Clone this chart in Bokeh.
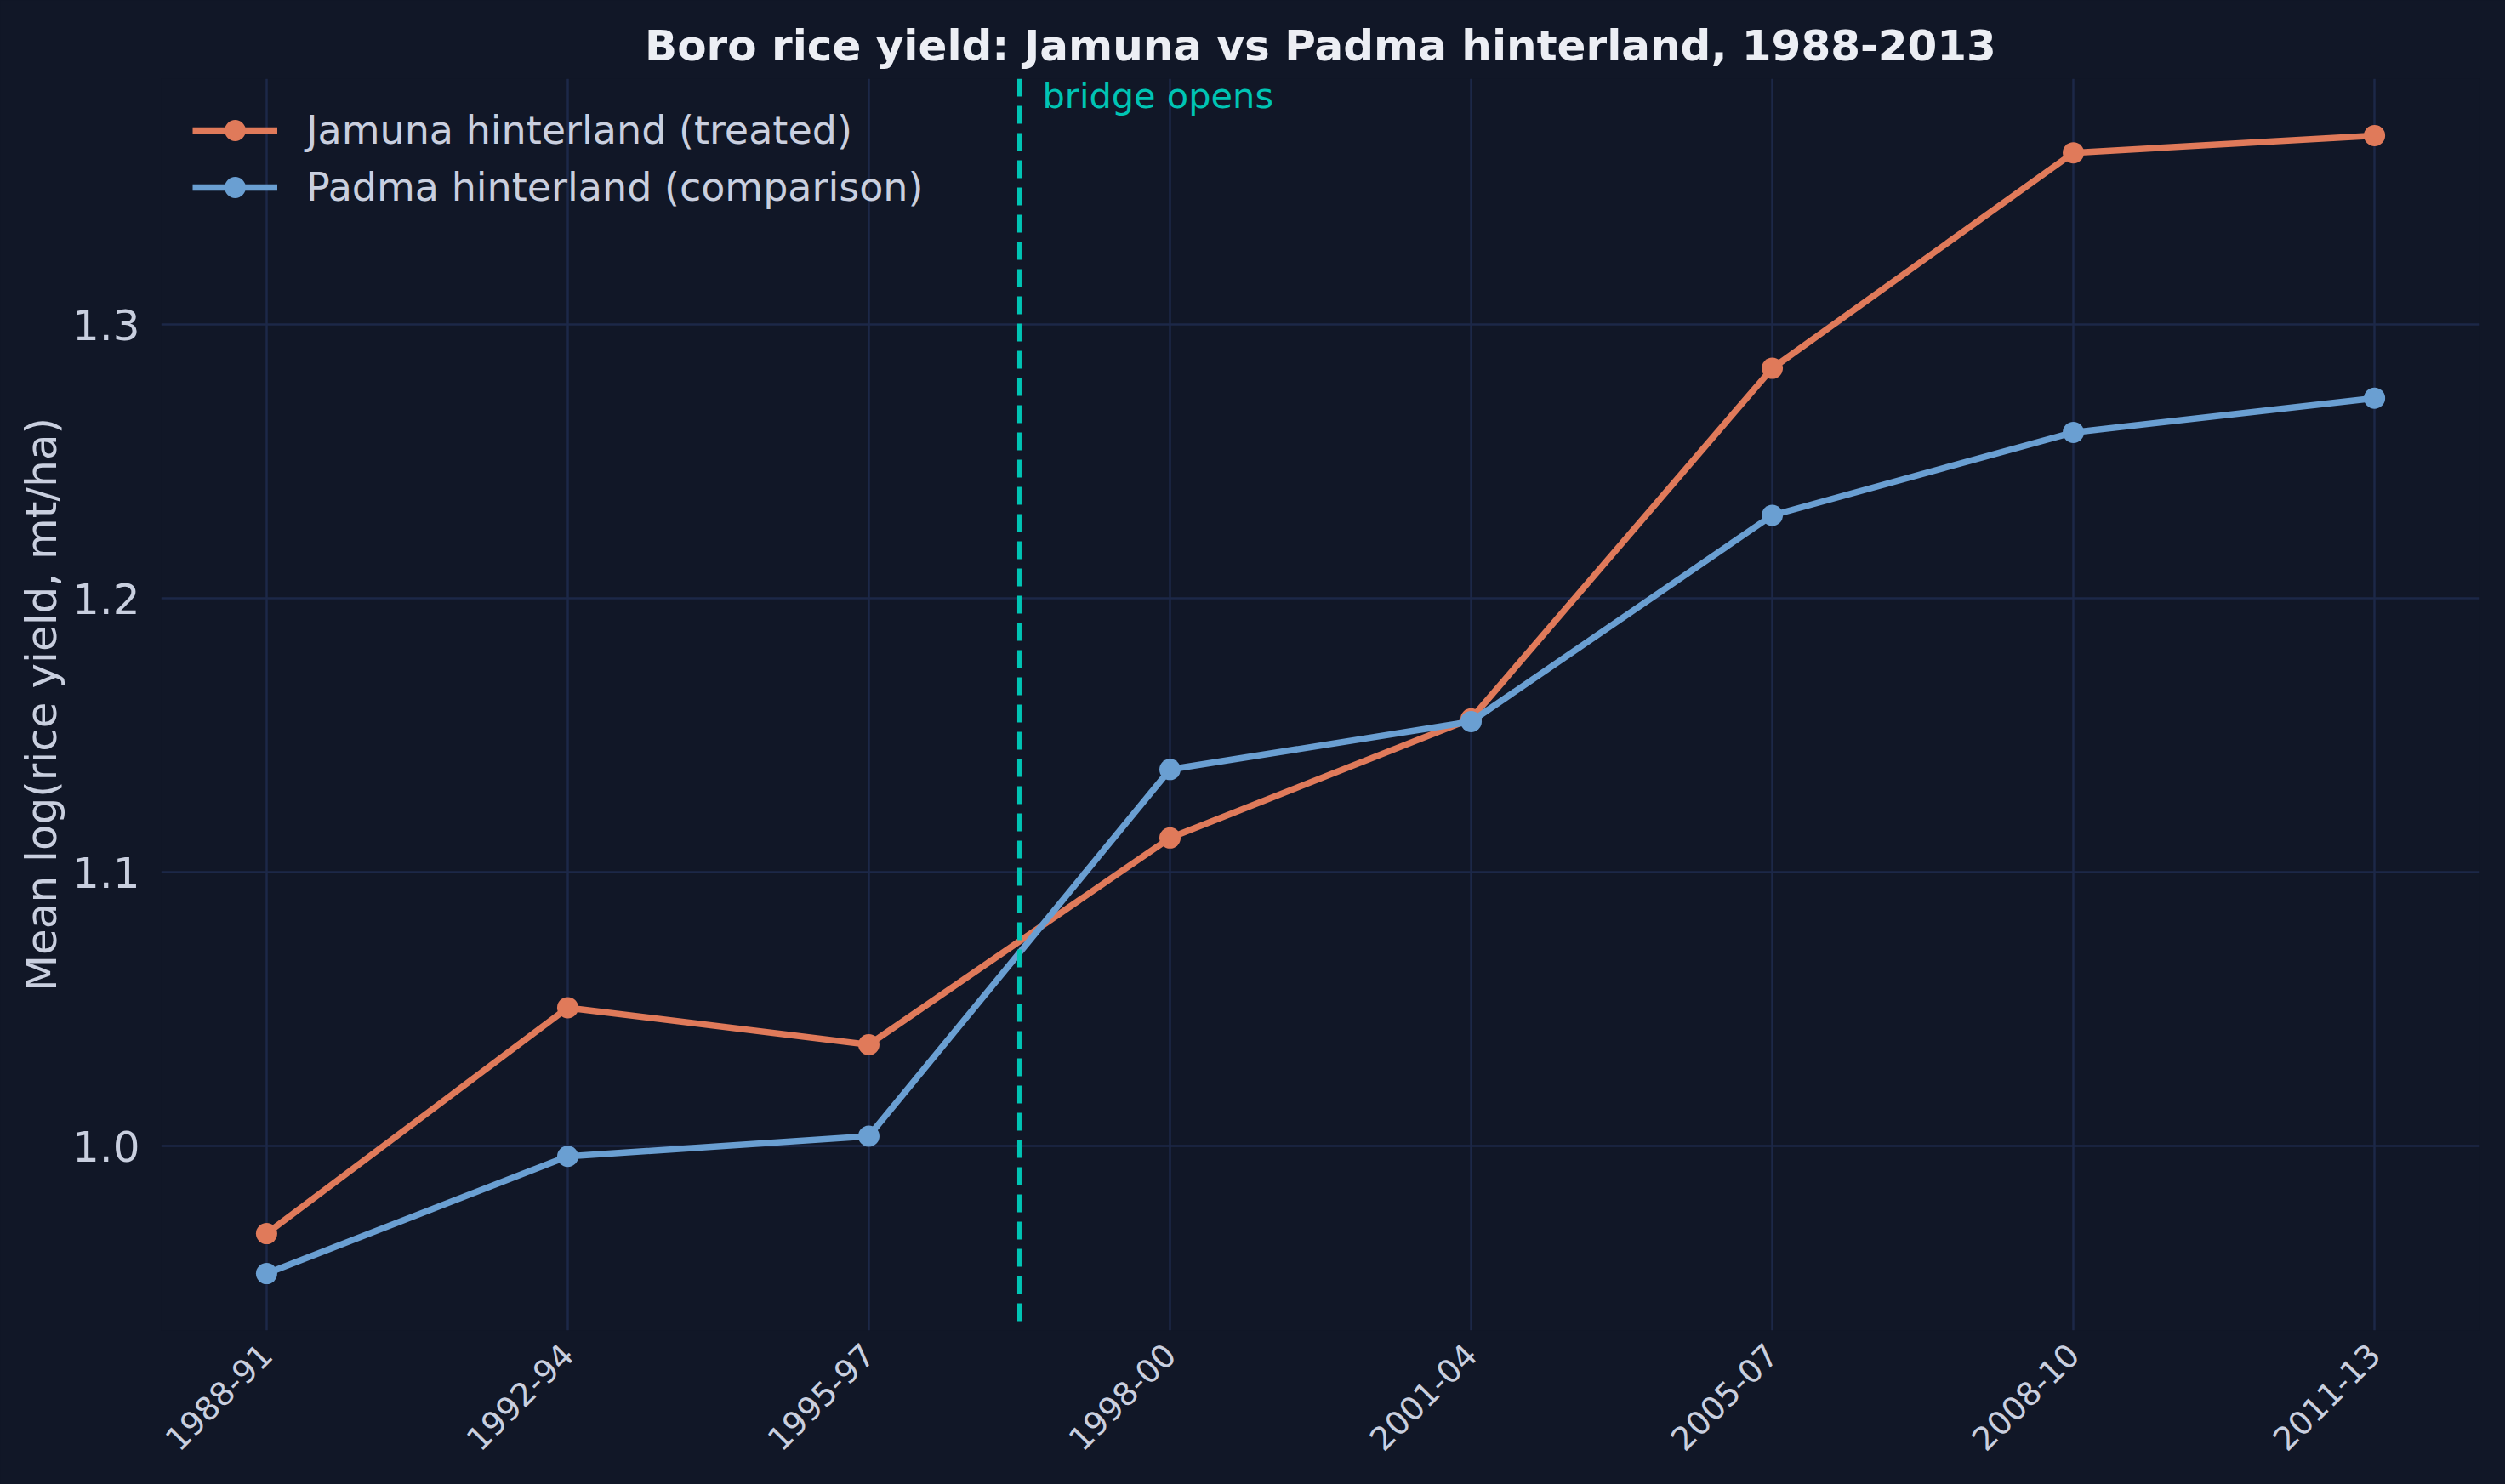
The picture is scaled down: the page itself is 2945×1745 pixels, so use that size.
import numpy as np

from bokeh.core.properties import value
from bokeh.embed import file_html
from bokeh.models import (
    ColumnDataSource,
    FixedTicker,
    GlobalInlineStyleSheet,
    PrintfTickFormatter,
    Range1d,
    Span,
)
from bokeh.plotting import figure
from bokeh.resources import INLINE

# ── Data ──────────────────────────────────────────────────────────────────────
periods = ["1988-91", "1992-94", "1995-97", "1998-00",
           "2001-04", "2005-07", "2008-10", "2011-13"]
jamuna = [0.968, 1.0505, 1.037, 1.1125, 1.156, 1.284, 1.3627, 1.369]
padma = [0.9534, 0.9962, 1.0036, 1.1375, 1.155, 1.2303, 1.2606, 1.2731]
bridge_pos = 2.5
bridge_label = "bridge opens"
y_ticks = [1.0, 1.1, 1.2, 1.3]

# ── Colors ────────────────────────────────────────────────────────────────────
BG = "#111727"
GRID = "#1c2848"
TEXT = "#c9cfdf"
TITLE = "#eceef4"
SERIES = {
    "Jamuna hinterland (treated)": ("jamuna", "#e07a5a"),
    "Padma hinterland (comparison)": ("padma", "#6a9fd2"),
}
BRIDGE = "#00c4b4"
FONT = "DejaVu Sans"

W, H = 2945, 1745
BORDER_L, BORDER_R, BORDER_T, BORDER_B = 189, 30, 92, 181

x = list(range(len(periods)))
source = ColumnDataSource(dict(x=x, period=periods, jamuna=jamuna, padma=padma))

all_y = jamuna + padma
pad_y = (max(all_y) - min(all_y)) * 0.05
pad_x = (len(periods) - 1) * 0.05

p = figure(
    width=W, height=H,
    x_range=Range1d(-pad_x, len(periods) - 1 + pad_x),
    y_range=Range1d(min(all_y) - pad_y, max(all_y) + pad_y),
    title="Boro rice yield: Jamuna vs Padma hinterland, 1988-2013",
    toolbar_location=None,
    output_backend="svg",
    min_border_left=BORDER_L, min_border_right=BORDER_R,
    min_border_top=BORDER_T, min_border_bottom=BORDER_B,
)
# dark page behind the canvas, so no light seams show at the frame edges
p.stylesheets = [GlobalInlineStyleSheet(
    css=f"html, body {{ background: {BG}; }}")]
p.background_fill_color = BG
p.border_fill_color = BG
p.outline_line_color = None

p.title.text_font = FONT
p.title.text_font_size = "50px"
p.title.text_font_style = "bold"
p.title.text_color = TITLE
p.title.align = "center"
p.title.standoff = 20

# ── Axes ──────────────────────────────────────────────────────────────────────
p.xaxis.ticker = FixedTicker(ticks=x)
p.xaxis.major_label_overrides = {i: s for i, s in enumerate(periods)}
p.xaxis.major_label_orientation = np.pi / 4
p.xaxis.major_label_text_font_size = "38px"
p.xaxis.major_label_standoff = 16

p.yaxis.ticker = FixedTicker(ticks=y_ticks)
p.yaxis.formatter = PrintfTickFormatter(format="%.1f")
p.yaxis.major_label_text_font_size = "50px"
p.yaxis.major_label_standoff = 19
p.yaxis.axis_label = "Mean log(rice yield, mt/ha)"
p.yaxis.axis_label_text_font_size = "50px"
p.yaxis.axis_label_text_font_style = "normal"
p.yaxis.axis_label_standoff = 4

for ax in (p.xaxis, p.yaxis):
    ax.axis_line_color = None
    ax.major_tick_line_color = None
    ax.minor_tick_line_color = None
    ax.major_label_text_color = TEXT
    ax.major_label_text_font = FONT
    ax.axis_label_text_color = TEXT
    ax.axis_label_text_font = FONT

p.xgrid.grid_line_color = GRID
p.ygrid.grid_line_color = GRID
p.xgrid.grid_line_width = 2.5
p.ygrid.grid_line_width = 2.5

# ── Bridge marker ─────────────────────────────────────────────────────────────
p.add_layout(Span(location=bridge_pos, dimension="height",
                  line_color=BRIDGE, line_width=5, line_dash="21 11"))
p.text(x=[bridge_pos], y=[p.y_range.end], text=[bridge_label],
       x_offset=27, y_offset=-5,
       text_font=value(FONT), text_font_size="41.5px",
       text_color=BRIDGE, text_baseline="top", text_align="left")

# ── Series ────────────────────────────────────────────────────────────────────
for label, (col, color) in SERIES.items():
    p.line(x="x", y=col, source=source, line_color=color,
           line_width=7.5, legend_label=label)
    p.scatter(x="x", y=col, source=source, marker="circle", size=25,
              fill_color=color, line_color=None, legend_label=label)

# ── Legend ────────────────────────────────────────────────────────────────────
frame_h = H - BORDER_T - BORDER_B
glyph_h, gap = 62, 5
legend_h = 2 * glyph_h + gap

legend = p.legend[0]
legend.location = (37, frame_h - 30 - legend_h)
legend.margin = 0
legend.padding = 0
legend.spacing = gap
legend.glyph_width = 100
legend.glyph_height = glyph_h
legend.label_height = 45
legend.label_standoff = 34
legend.label_text_font = FONT
legend.label_text_font_size = "46px"
legend.label_text_color = TEXT
legend.background_fill_alpha = 0
legend.border_line_color = None

open("out.html", "w").write(file_html(p, INLINE))
